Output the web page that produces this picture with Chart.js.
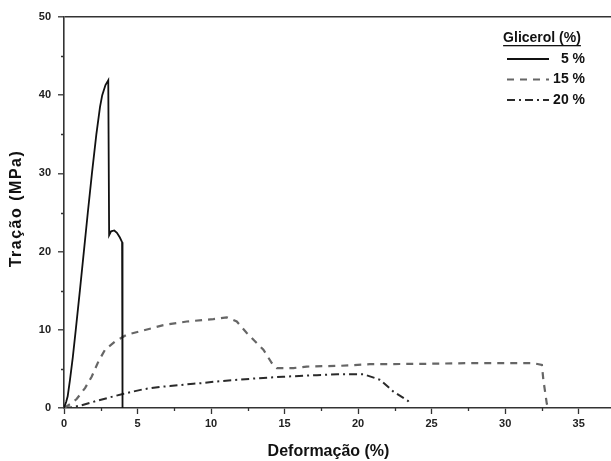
<!DOCTYPE html>
<html lang="pt">
<head>
<meta charset="utf-8">
<title>Tração x Deformação</title>
<script src="https://cdn.jsdelivr.net/npm/chart.js@4.4.1/dist/chart.umd.min.js"></script>
<style>
  html, body { margin: 0; padding: 0; background: #fff; }
  canvas { display: block; }
</style>
</head>
<body>
<canvas id="grafico" width="611" height="461"></canvas>
<script>
// Ensaio de tração: deformação (%) e tração (MPa) para cada teor de glicerol
const deformacao5 = [0, 0.15, 0.25, 0.4, 0.6, 0.8, 1.08, 1.35, 1.62, 1.9, 2.2, 2.45, 2.6, 2.82, 3.01, 3.05, 3.07, 3.2, 3.42, 3.6, 3.8, 3.95, 3.98, 3.98];
const tracao5 = [0, 0.8, 1.5, 3.5, 6.5, 10, 15, 20, 25, 30, 35, 38.5, 40, 41.3, 41.9, 41.9, 22.1, 22.6, 22.7, 22.4, 21.8, 21.2, 21.0, 0];

const deformacao15 = [0, 0.5, 0.86, 1.43, 1.88, 2.34, 2.79, 3.47, 4.26, 5.17, 6.76, 8.35, 10.16, 11.07, 11.75, 12.43, 13.56, 14.13, 14.47, 15.6, 16.5, 18.8, 20.8, 24.5, 28.1, 31.9, 32.5, 32.6, 32.83, 32.9];
const tracao15 = [0, 0.6, 1.15, 2.55, 4.0, 5.95, 7.45, 8.5, 9.36, 9.8, 10.6, 11.06, 11.37, 11.6, 11.06, 9.6, 7.45, 5.75, 5.1, 5.1, 5.3, 5.4, 5.6, 5.65, 5.75, 5.75, 5.5, 3.6, 0.6, 0];

const deformacao20 = [0, 0.5, 1.1, 2.2, 3.4, 4.0, 5.4, 6.5, 7.2, 8.8, 9.5, 10.4, 11.8, 13.1, 14.9, 17.2, 18.6, 20.4, 21.5, 22.4, 23.4, 23.5];
const tracao20 = [0, 0.1, 0.3, 0.9, 1.5, 1.8, 2.4, 2.7, 2.8, 3.1, 3.2, 3.4, 3.6, 3.8, 4.0, 4.2, 4.3, 4.3, 3.6, 2.1, 0.9, 0.5];

const rotulos = ['5 %', '15 %', '20 %'];
const tituloLegenda = 'Glicerol (%)';
const marcasX = [0, 5, 10, 15, 20, 25, 30, 35];
const marcasY = [0, 10, 20, 30, 40, 50];

const fonte = 'Arial, "Liberation Sans", sans-serif';

function pontos(xs, ys) {
    return xs.map((x, i) => ({ x: x, y: ys[i] }));
}

// marcas menores dos eixos (mais curtas que as principais)
const marcasMenores = {
    id: 'marcasMenores',
    afterDraw(chart) {
        const { x, y } = chart.scales;
        const ctx = chart.ctx;
        ctx.save();
        ctx.strokeStyle = '#333';
        ctx.lineWidth = 1.3;
        ctx.beginPath();
        x.ticks.filter(t => !marcasX.includes(t.value)).forEach(t => {
            const px = Math.round(x.getPixelForValue(t.value)) + 0.5;
            ctx.moveTo(px, x.top);
            ctx.lineTo(px, x.top + 3);
        });
        y.ticks.filter(t => !marcasY.includes(t.value)).forEach(t => {
            const py = Math.round(y.getPixelForValue(t.value)) + 0.5;
            ctx.moveTo(y.right - 3, py);
            ctx.lineTo(y.right, py);
        });
        ctx.stroke();
        ctx.restore();
    }
};

// títulos dos eixos (o vertical com letras espaçadas)
const titulosEixos = {
    id: 'titulosEixos',
    afterDraw(chart) {
        const ctx = chart.ctx;
        const area = chart.chartArea;
        ctx.save();
        ctx.font = 'bold 16px ' + fonte;
        ctx.fillStyle = '#111';
        ctx.textAlign = 'center';
        ctx.textBaseline = 'middle';
        ctx.fillText('Deformação (%)', (area.left + area.right) / 2 - 9, 452);

        ctx.translate(17, (area.top + area.bottom) / 2 - 4);
        ctx.rotate(-Math.PI / 2);
        ctx.letterSpacing = '1.5px';
        ctx.fillText('Tração (MPa)', 0, 0);
        ctx.restore();
    }
};

// legenda no canto superior direito
const legendaGlicerol = {
    id: 'legendaGlicerol',
    afterDraw(chart) {
        const ctx = chart.ctx;
        ctx.save();
        ctx.font = 'bold 14px ' + fonte;
        ctx.fillStyle = '#111';
        ctx.textBaseline = 'middle';
        ctx.textAlign = 'center';
        ctx.fillText(tituloLegenda, 542, 38);
        const largura = ctx.measureText(tituloLegenda).width;
        ctx.fillRect(542 - largura / 2, 45, largura, 1.3);

        ctx.textAlign = 'right';
        chart.data.datasets.forEach((ds, i) => {
            const y = 59 + i * 20.5;
            ctx.strokeStyle = ds.borderColor;
            ctx.lineWidth = ds.borderWidth;
            ctx.setLineDash(ds.borderDash || []);
            ctx.beginPath();
            ctx.moveTo(507, y);
            ctx.lineTo(549, y);
            ctx.stroke();
            ctx.setLineDash([]);
            ctx.fillText(ds.label, 585, y);
        });
        ctx.restore();
    }
};

const ctx = document.getElementById('grafico').getContext('2d');
new Chart(ctx, {
    type: 'line',
    data: {
        datasets: [
            {
                label: rotulos[0],
                data: pontos(deformacao5, tracao5),
                borderColor: '#111',
                borderWidth: 1.8,
                pointRadius: 0,
                tension: 0
            },
            {
                label: rotulos[1],
                data: pontos(deformacao15, tracao15),
                borderColor: '#666',
                borderWidth: 2.2,
                borderDash: [7, 6],
                pointRadius: 0,
                tension: 0
            },
            {
                label: rotulos[2],
                data: pontos(deformacao20, tracao20),
                borderColor: '#2a2a2a',
                borderWidth: 2,
                borderDash: [8, 4, 2, 4],
                pointRadius: 0,
                tension: 0
            }
        ]
    },
    options: {
        responsive: false,
        animation: false,
        layout: { padding: { top: 17, left: 0, right: 0, bottom: 0 } },
        plugins: {
            legend: { display: false },
            tooltip: { enabled: false }
        },
        scales: {
            x: {
                type: 'linear',
                min: 0,
                max: 37.2,
                border: { color: '#333', width: 1.6 },
                grid: {
                    drawOnChartArea: false,
                    tickLength: 6,
                    tickWidth: 1.3,
                    tickColor: c => marcasX.includes(c.tick.value) ? '#333' : 'transparent'
                },
                ticks: {
                    stepSize: 2.5,
                    includeBounds: false,
                    autoSkip: false,
                    maxRotation: 0,
                    padding: 3,
                    color: '#222',
                    font: { family: fonte, size: 11, weight: 'bold' },
                    callback: v => marcasX.includes(v) ? v : ''
                },
                afterFit: s => { s.height = 53; }
            },
            y: {
                min: 0,
                max: 50,
                border: { color: '#333', width: 1.6 },
                grid: {
                    color: c => c.tick.value === 50 ? '#333' : 'transparent',
                    lineWidth: 1.6,
                    tickLength: 6,
                    tickWidth: 1.3,
                    tickColor: c => marcasY.includes(c.tick.value) ? '#333' : 'transparent'
                },
                ticks: {
                    stepSize: 5,
                    autoSkip: false,
                    padding: 7,
                    color: '#222',
                    font: { family: fonte, size: 11, weight: 'bold' },
                    callback: v => marcasY.includes(v) ? v : ''
                },
                afterFit: s => { s.width = 64; }
            }
        }
    },
    plugins: [marcasMenores, titulosEixos, legendaGlicerol]
});
</script>
</body>
</html>
